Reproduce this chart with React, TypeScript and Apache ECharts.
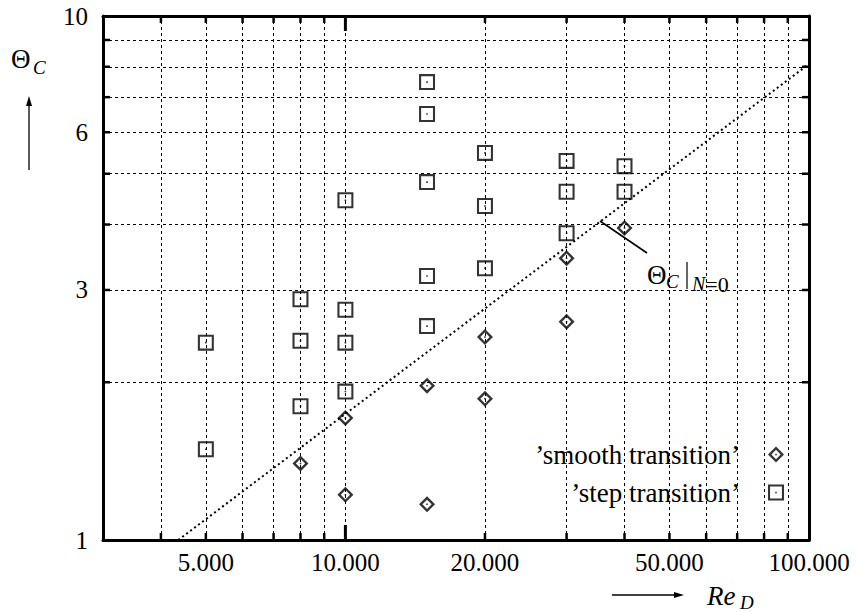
import React, { useEffect, useRef } from "react";
import * as echarts from "echarts";

// ---- data ----
const xGridValues = [4000, 5000, 6000, 7000, 8000, 9000, 10000, 20000, 30000, 40000, 50000, 60000, 70000, 80000, 90000];
const xLabelValues = [5000, 10000, 20000, 50000, 100000];
const xDecadeTicks = [10000];
const yGridValues = [2, 3, 4, 5, 6, 7, 8, 9];
const yLabelValues = [1, 3, 6, 10];
const X_MIN = 3000;
const X_MAX = 100000;
const Y_MIN = 1;
const Y_MAX = 10;

const smoothName = "\u2019smooth transition\u2019";
const stepName = "\u2019step transition\u2019";

const smoothRe = [8000, 10000, 10000, 15000, 15000, 20000, 20000, 30000, 30000, 40000];
const smoothTheta = [1.4, 1.71, 1.22, 1.97, 1.17, 2.44, 1.86, 3.45, 2.61, 3.94];

const stepRe = [5000, 5000, 8000, 8000, 8000, 10000, 10000, 10000, 10000, 15000, 15000, 15000, 15000, 15000, 20000, 20000, 20000, 30000, 30000, 30000, 40000, 40000];
const stepTheta = [2.38, 1.49, 2.88, 2.4, 1.8, 4.45, 2.75, 2.38, 1.92, 7.48, 6.5, 4.82, 3.19, 2.56, 5.48, 4.34, 3.3, 5.29, 4.62, 3.85, 5.17, 4.62];

const neutralRe = [4360, 100000];
const neutralTheta = [1.0, 8.1];

// ---- styles ----
const FONT = '"Liberation Serif", "DejaVu Serif", serif';
const SQUARE =
  "path://M0 0L20 0L20 20L0 20Z M2.6 2.6L2.6 17.4L17.4 17.4L17.4 2.6Z M9 9L11 9L11 11L9 11Z";
const DIAMOND =
  "path://M10 0L20 10L10 20L0 10Z M10 4.2L4.2 10L10 15.8L15.8 10Z M9 9L11 9L11 11L9 11Z";

const fmt = (v: number) => String(Math.round(v)).replace(/\B(?=(\d{3})+(?!\d))/g, ".");

export default function App() {
  const ref = useRef<HTMLDivElement>(null);
  useEffect(() => {
    if (!ref.current) return;
    const chart = echarts.init(ref.current, undefined, { renderer: "svg" });
    const axisLine = { show: true, onZero: false, lineStyle: { color: "#000", width: 3 } };
    const xBase = { type: "log", logBase: 10, min: X_MIN, max: X_MAX, gridIndex: 0, splitLine: { show: false } };
    const yBase = { type: "log", logBase: 10, min: Y_MIN, max: Y_MAX, gridIndex: 0, splitLine: { show: false } };
    const tickStyle = (w: number) => ({ stroke: "#000", lineWidth: w });
    chart.setOption({
      animation: false,
      backgroundColor: "#fff",
      grid: { left: 103, right: 47, top: 16, bottom: 72, outerBoundsMode: "none" },
      xAxis: [
        {
          ...xBase,
          position: "bottom",
          axisLine,
          axisTick: { show: false },
          axisLabel: { show: true, customValues: xLabelValues, formatter: fmt, color: "#000", fontFamily: FONT, fontSize: 25, margin: 10 },
        },
        {
          ...xBase,
          position: "top",
          axisLine,
          axisTick: { show: false },
          axisLabel: { show: false },
        },
      ],
      yAxis: [
        {
          ...yBase,
          position: "left",
          axisLine,
          axisTick: { show: false },
          axisLabel: { show: true, customValues: yLabelValues, formatter: fmt, color: "#000", fontFamily: FONT, fontSize: 25, margin: 15 },
        },
        {
          ...yBase,
          position: "right",
          axisLine,
          axisTick: { show: false },
          axisLabel: { show: false },
        },
      ],
      legend: {
        show: true,
        orient: "vertical",
        align: "right",
        right: 70,
        top: 435,
        padding: [6, 2, 6, 10],
        itemGap: 11,
        itemWidth: 16,
        itemHeight: 16,
        backgroundColor: "#fff",
        selectedMode: false,
        symbolKeepAspect: true,
        textStyle: { color: "#000", fontFamily: FONT, fontSize: 27, lineHeight: 26, padding: [0, 23, 0, 0] },
        data: [
          { name: smoothName, icon: DIAMOND },
          { name: stepName, icon: SQUARE },
        ],
      },
      series: [
        {
          type: "line",
          silent: true,
          data: neutralRe.map((r, i) => [r, neutralTheta[i]]),
          symbol: "none",
          lineStyle: { color: "#000", width: 2, type: [2, 3] },
          z: 2,
          markLine: {
            silent: true,
            symbol: ["none", "none"],
            label: { show: false },
            animation: false,
            lineStyle: { color: "#000", width: 1, type: [3, 3] },
            emphasis: { disabled: true },
            data: [
              ...xGridValues.map((v) => ({ xAxis: v })),
              ...yGridValues.map((v) => ({ yAxis: v })),
            ],
          },
        },
        // x ticks (bottom + top, pointing inward)
        {
          type: "custom",
          silent: true,
          z: 4,
          clip: false,
          xAxisIndex: 0,
          yAxisIndex: 0,
          encode: { x: 0, y: 1 },
          data: xGridValues.map((v) => [v, Y_MIN]),
          renderItem: (_p: any, api: any) => {
            const v = api.value(0);
            const major = xDecadeTicks.indexOf(v) >= 0;
            const len = major ? 15 : 7;
            const w = major ? 3 : 2.5;
            const b = api.coord([v, Y_MIN]);
            const t = api.coord([v, Y_MAX]);
            return {
              type: "group",
              children: [
                { type: "line", shape: { x1: b[0], y1: b[1], x2: b[0], y2: b[1] - len }, style: tickStyle(w) },
                { type: "line", shape: { x1: t[0], y1: t[1], x2: t[0], y2: t[1] + len }, style: tickStyle(w) },
              ],
            };
          },
        },
        // y ticks (left + right, pointing inward)
        {
          type: "custom",
          silent: true,
          z: 4,
          clip: false,
          xAxisIndex: 0,
          yAxisIndex: 0,
          encode: { x: 0, y: 1 },
          data: yGridValues.map((v) => [X_MIN, v]),
          renderItem: (_p: any, api: any) => {
            const v = api.value(1);
            const l = api.coord([X_MIN, v]);
            const r = api.coord([X_MAX, v]);
            return {
              type: "group",
              children: [
                { type: "line", shape: { x1: l[0], y1: l[1], x2: l[0] + 7, y2: l[1] }, style: tickStyle(2.5) },
                { type: "line", shape: { x1: r[0], y1: r[1], x2: r[0] - 7, y2: r[1] }, style: tickStyle(2.5) },
              ],
            };
          },
        },
        {
          type: "scatter",
          name: smoothName,
          data: smoothRe.map((r, i) => [r, smoothTheta[i]]),
          symbol: DIAMOND,
          symbolSize: 16,
          itemStyle: { color: "#000", borderWidth: 0 },
          z: 5,
        },
        {
          type: "scatter",
          name: stepName,
          data: stepRe.map((r, i) => [r, stepTheta[i]]),
          symbol: SQUARE,
          symbolSize: 16,
          itemStyle: { color: "#000", borderWidth: 0 },
          z: 5,
        },
      ],
      graphic: [
        // y axis title
        { type: "text", x: 11, y: 59, z: 10, style: { text: "\u0398", font: `27px ${FONT}`, fill: "#000", textVerticalAlign: "middle" } },
        { type: "text", x: 33, y: 67, z: 10, style: { text: "C", font: `italic 19px ${FONT}`, fill: "#000", textVerticalAlign: "middle" } },
        { type: "line", z: 10, shape: { x1: 29, y1: 170, x2: 29, y2: 104 }, style: { stroke: "#000", lineWidth: 1.3 } },
        { type: "polygon", z: 10, shape: { points: [[29, 96], [26, 106], [32, 106]] }, style: { fill: "#000" } },
        // x axis title
        { type: "line", z: 10, shape: { x1: 612, y1: 595, x2: 676, y2: 595 }, style: { stroke: "#000", lineWidth: 1.3 } },
        { type: "polygon", z: 10, shape: { points: [[684, 595], [674, 592], [674, 598]] }, style: { fill: "#000" } },
        { type: "text", x: 707, y: 596, z: 10, style: { text: "Re", font: `italic 27px ${FONT}`, fill: "#000", textVerticalAlign: "middle" } },
        { type: "text", x: 740, y: 602, z: 10, style: { text: "D", font: `italic 19px ${FONT}`, fill: "#000", textVerticalAlign: "middle" } },
        // annotation of the N=0 line
        { type: "rect", z: 5, shape: { x: 640, y: 254, width: 122, height: 44 }, style: { fill: "#fff" } },
        { type: "line", z: 10, shape: { x1: 600, y1: 221, x2: 647, y2: 253 }, style: { stroke: "#000", lineWidth: 1.6 } },
        { type: "text", x: 647, y: 275, z: 10, style: { text: "\u0398", font: `27px ${FONT}`, fill: "#000", textVerticalAlign: "middle" } },
        { type: "text", x: 666, y: 281, z: 10, style: { text: "C", font: `italic 19px ${FONT}`, fill: "#000", textVerticalAlign: "middle" } },
        { type: "line", z: 10, shape: { x1: 687, y1: 262, x2: 687, y2: 289 }, style: { stroke: "#000", lineWidth: 1.2 } },
        {
          type: "text",
          x: 692,
          y: 284,
          z: 10,
          style: {
            text: "{i|N}{r|=0}",
            fill: "#000",
            textVerticalAlign: "middle",
            rich: {
              i: { font: `italic 20px ${FONT}`, fill: "#000" },
              r: { font: `22px ${FONT}`, fill: "#000" },
            },
          },
        },
      ],
    });
    return () => chart.dispose();
  }, []);
  return <div ref={ref} style={{ position: "absolute", left: 0, top: 0, width: 856, height: 612 }} />;
}
